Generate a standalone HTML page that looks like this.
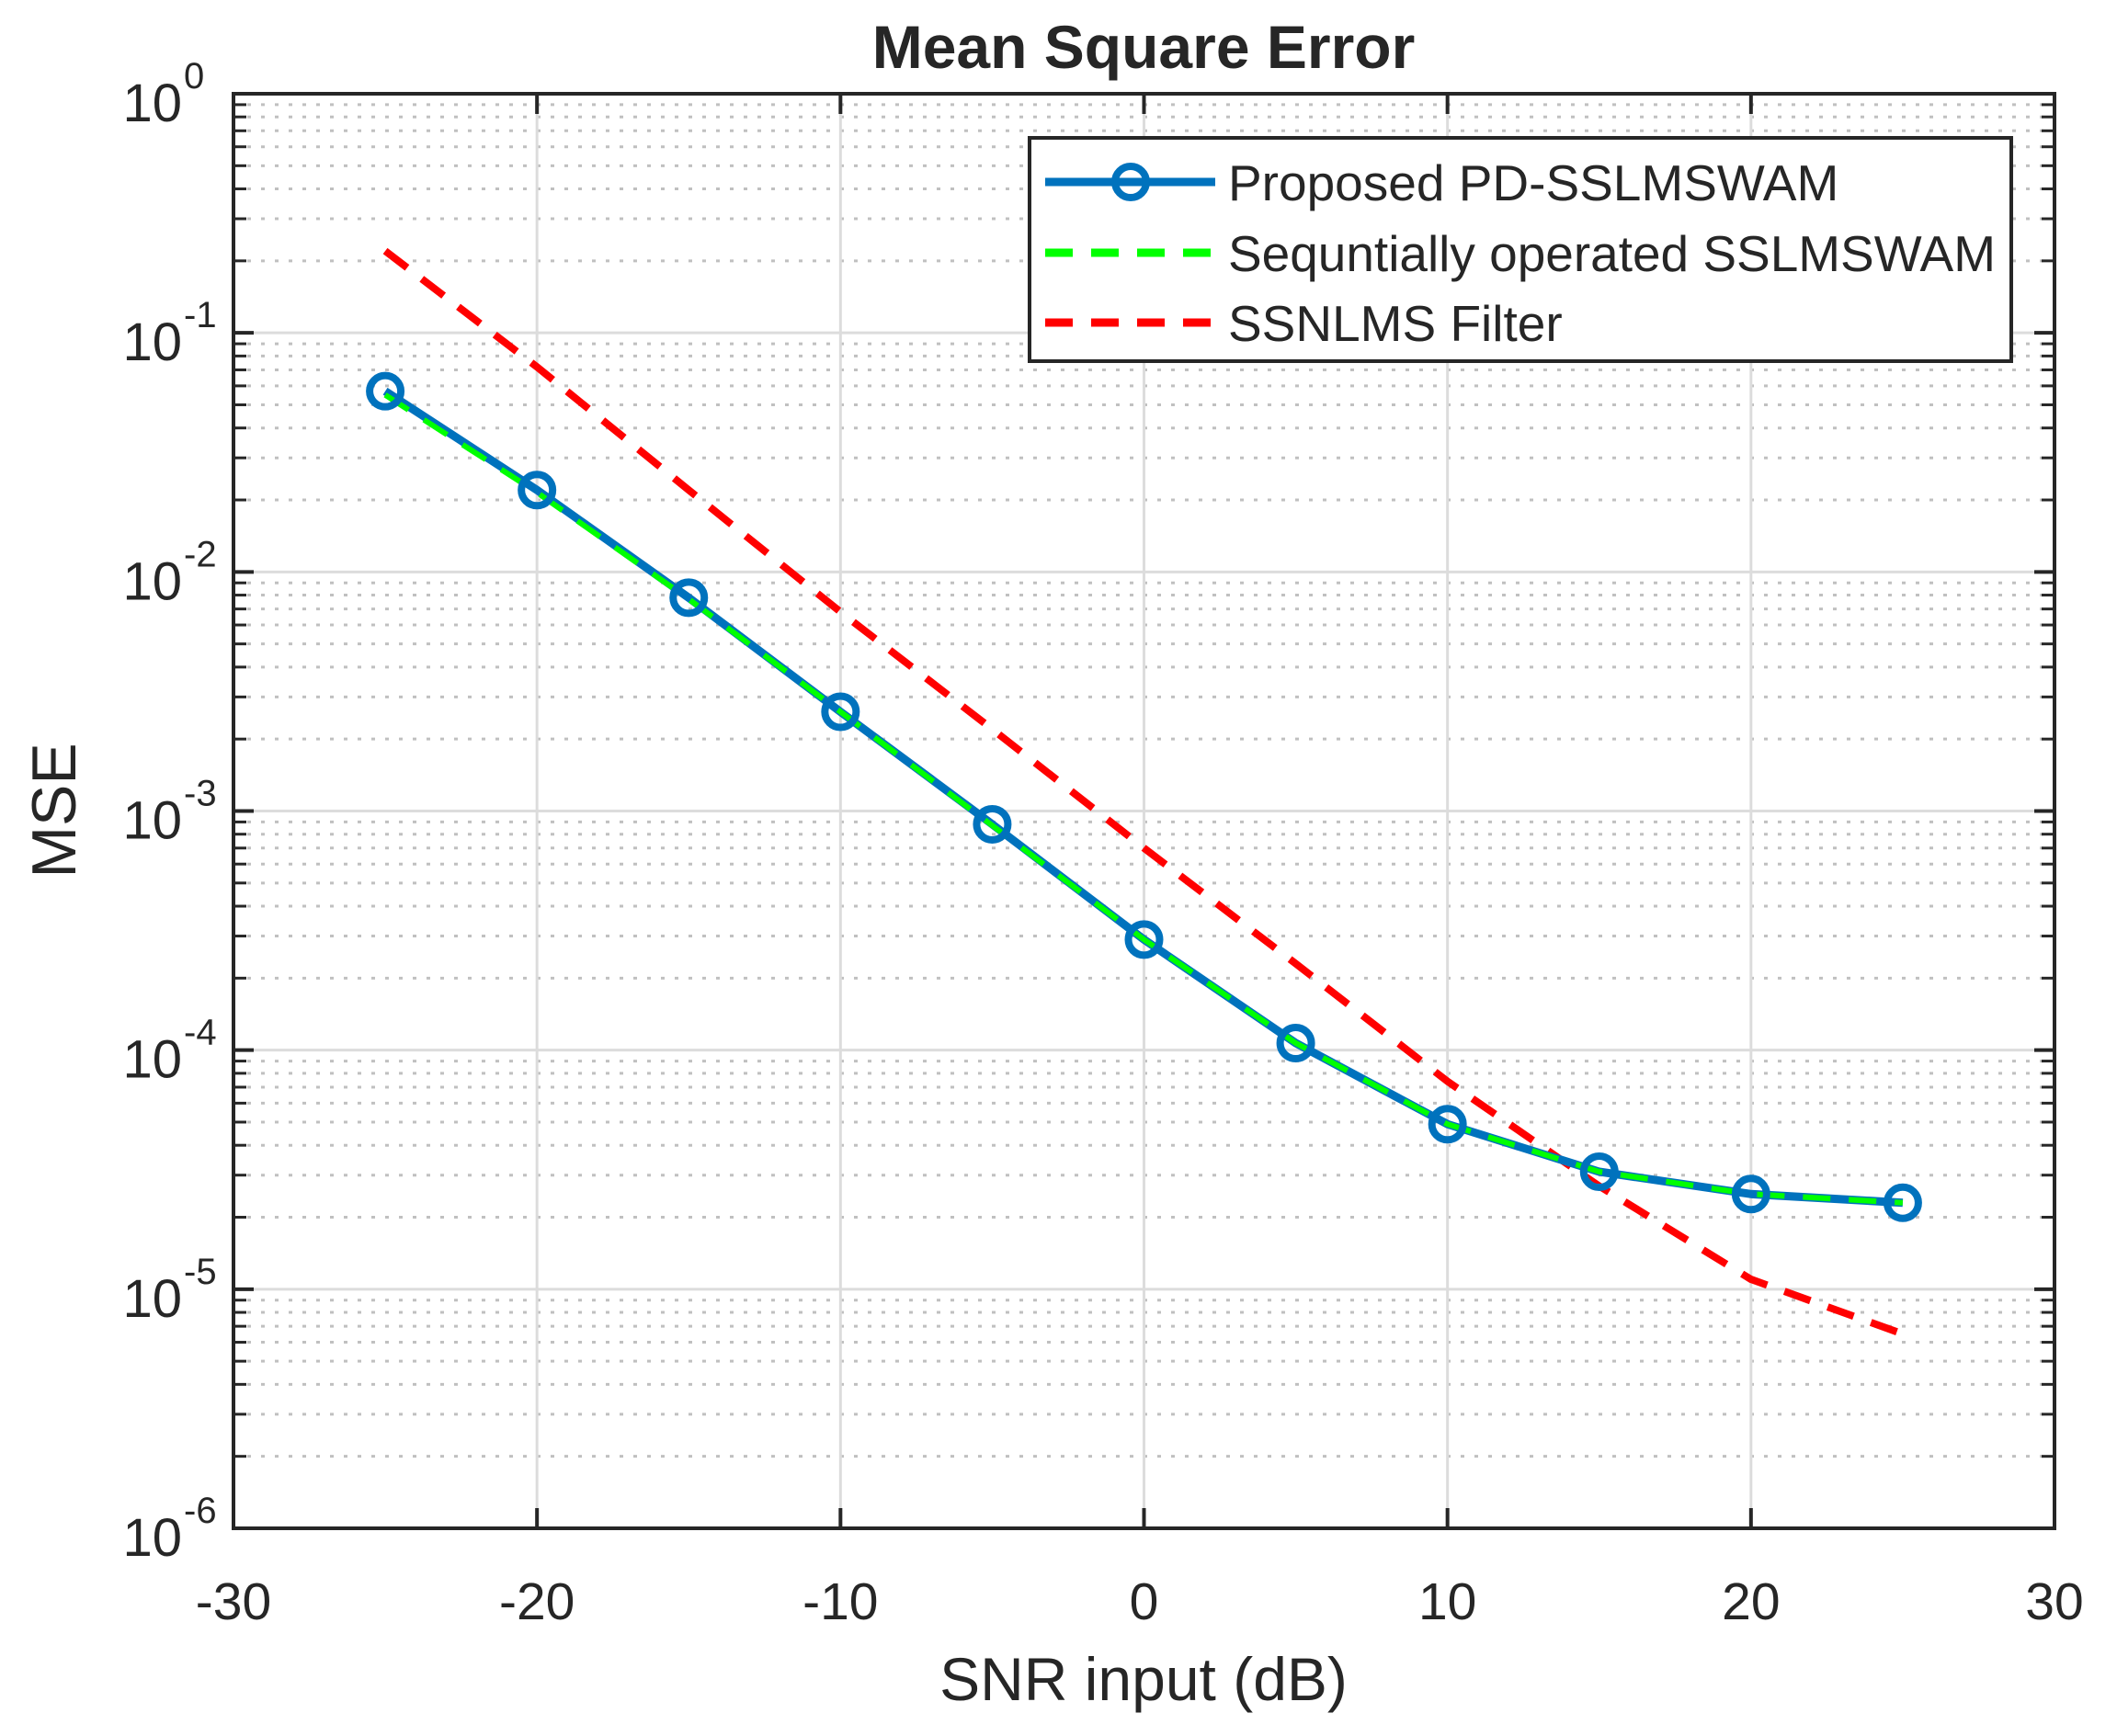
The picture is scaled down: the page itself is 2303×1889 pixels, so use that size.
<!DOCTYPE html>
<html><head><meta charset="utf-8"><style>
html,body{margin:0;padding:0;background:#fff;}
svg text{font-family:"Liberation Sans",Arial,sans-serif;fill:#262626;}
</style></head><body>
<svg id="chart" width="2303" height="1884" viewBox="0 0 2303 1884" xmlns="http://www.w3.org/2000/svg">
<rect width="2303" height="1884" fill="#fff"/>
<g id="grid"></g>
<g id="series"></g>
<rect x="254" y="102" width="1981" height="1561" fill="none" stroke="#262626" stroke-width="4"/>
<g id="ticks"></g>
<text x="1244" y="74" font-size="66" font-weight="bold" text-anchor="middle" fill="#000">Mean Square Error</text>
<text x="1244" y="1850" font-size="66" text-anchor="middle">SNR input (dB)</text>
<text transform="translate(82,882) rotate(-90)" font-size="68" text-anchor="middle">MSE</text>
<g>
<rect x="1120" y="150" width="1068" height="243" fill="#fff" stroke="#262626" stroke-width="4"/>
<line x1="1137" y1="198" x2="1322" y2="198" stroke="#0072BD" stroke-width="9"/>
<circle cx="1230" cy="198" r="17" fill="none" stroke="#0072BD" stroke-width="8"/>
<text x="1336" y="218" font-size="55" fill="#000">Proposed PD-SSLMSWAM</text>
<line x1="1137" y1="275" x2="1322" y2="275" stroke="#00FF00" stroke-width="9" stroke-dasharray="30,20"/>
<text x="1336" y="295" font-size="55" fill="#000" textLength="835" lengthAdjust="spacingAndGlyphs">Sequntially operated SSLMSWAM</text>
<line x1="1137" y1="351" x2="1322" y2="351" stroke="#FF0000" stroke-width="9" stroke-dasharray="30,20"/>
<text x="1336" y="371" font-size="55" fill="#000">SSNLMS Filter</text>
</g>
</svg>
<script>
const snr = [-25,-20,-15,-10,-5,0,5,10,15,20,25];
const proposedMse = [0.057,0.022,0.0078,0.0026,0.00088,0.00029,0.000107,0.000049,0.000031,0.000025,0.000023];
const sequentialMse = [0.055,0.0215,0.0077,0.0026,0.00087,0.00029,0.000107,0.000049,0.000031,0.000025,0.000023];
const ssnlmsMse = [0.22,0.072,0.022,0.0068,0.0022,0.0007,0.00023,0.000074,0.000027,0.000011,0.0000065];
const xTicks = [-30,-20,-10,0,10,20,30];
const yExps = [0,-1,-2,-3,-4,-5,-6];

const L=254,R=2235,T=102,B=1663;
const NS='http://www.w3.org/2000/svg';
const xs=v=>L+(v+30)/60*(R-L);
const ys=v=>T+(0-Math.log10(v))/6*(B-T);
function mk(tag,attrs,parent){const e=document.createElementNS(NS,tag);for(const k in attrs)e.setAttribute(k,attrs[k]);parent.appendChild(e);return e;}
const grid=document.getElementById('grid'),ticks=document.getElementById('ticks'),series=document.getElementById('series');

for(let e=-6;e<0;e++){for(let m=2;m<=9;m++){const y=ys(m*Math.pow(10,e));
 const ln=mk('line',{x1:L,x2:R,y1:y,y2:y,stroke:'#c0c0c0','stroke-width':3,'stroke-dasharray':'4,11'},grid);
 
 
 mk('line',{x1:L,x2:L+14,y1:y,y2:y,stroke:'#262626','stroke-width':3},ticks);
 mk('line',{x1:R,x2:R-14,y1:y,y2:y,stroke:'#262626','stroke-width':3},ticks);}}
yExps.forEach(ex=>{const y=ys(Math.pow(10,ex));
 const ln=mk('line',{x1:L,x2:R,y1:y,y2:y,stroke:'#dcdcdc','stroke-width':3},grid);
 
 
 mk('line',{x1:L,x2:L+22,y1:y,y2:y,stroke:'#262626','stroke-width':4},ticks);
 mk('line',{x1:R,x2:R-22,y1:y,y2:y,stroke:'#262626','stroke-width':4},ticks);
 const t=mk('text',{x:198,y:y+30,'font-size':58,'text-anchor':'end'},ticks);
 
 
 t.textContent='10';
 const s=mk('text',{x:200,y:y-6,'font-size':40},ticks);
 
 
 s.textContent=String(ex);});
xTicks.forEach(v=>{const x=xs(v);
 const ln=mk('line',{x1:x,x2:x,y1:T,y2:B,stroke:'#dcdcdc','stroke-width':3},grid);
 
 
 mk('line',{x1:x,x2:x,y1:B,y2:B-22,stroke:'#262626','stroke-width':4},ticks);
 mk('line',{x1:x,x2:x,y1:T,y2:T+22,stroke:'#262626','stroke-width':4},ticks);
 const t=mk('text',{x:x,y:1762,'font-size':57,'text-anchor':'middle'},ticks);
 
 
 t.textContent=String(v);});

function pts(arr){return arr.map((v,i)=>xs(snr[i])+','+ys(v)).join(' ');}
const red=mk('polyline',{points:pts(ssnlmsMse),fill:'none',stroke:'#FF0000','stroke-width':8,'stroke-dasharray':'30,20'},series);


const blue=mk('polyline',{points:pts(proposedMse),fill:'none',stroke:'#0072BD','stroke-width':9},series);


const green=mk('polyline',{points:pts(sequentialMse),fill:'none',stroke:'#00FF00','stroke-width':6,'stroke-dasharray':'30,20'},series);


proposedMse.forEach((v,i)=>{const c=mk('circle',{cx:xs(snr[i]),cy:ys(v),r:17,fill:'none',stroke:'#0072BD','stroke-width':8},series);
 
 });
</script>
</body></html>
